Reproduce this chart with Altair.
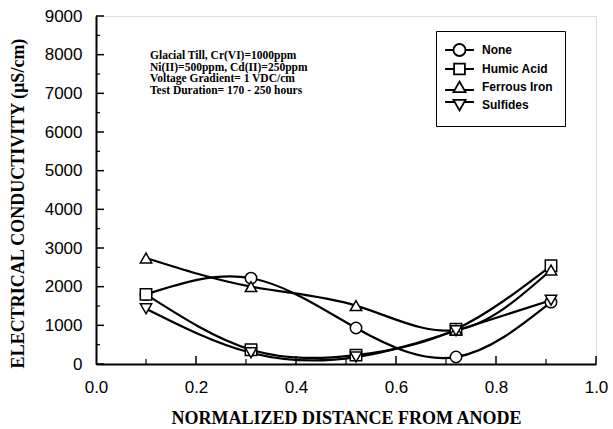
import altair as alt
import pandas as pd

# ---- data ----
distance = [0.1, 0.31, 0.52, 0.72, 0.91]
series_names = ["None", "Humic Acid", "Ferrous Iron", "Sulfides"]
none_vals = [1800, 2220, 930, 180, 1600]
humic_vals = [1800, 370, 230, 900, 2540]
ferrous_vals = [2740, 2000, 1510, 880, 2430]
sulfides_vals = [1430, 290, 180, 860, 1650]

y_major = [0, 1000, 2000, 3000, 4000, 5000, 6000, 7000, 8000, 9000]
y_minor = [500, 1500, 2500, 3500, 4500, 5500, 6500, 7500, 8500]
x_labels = [0.0, 0.2, 0.4, 0.6, 0.8, 1.0]
x_major = [0.2, 0.4, 0.6, 0.8, 1.0]
x_minor = [0.1, 0.3, 0.5, 0.7, 0.9]

note_lines = [
    "Glacial Till, Cr(VI)=1000ppm",
    "Ni(II)=500ppm, Cd(II)=250ppm",
    "Voltage Gradient= 1 VDC/cm",
    "Test Duration= 170 - 250 hours",
]

rows = []
for name, vals in zip(series_names, [none_vals, humic_vals, ferrous_vals, sulfides_vals]):
    for d, v in zip(distance, vals):
        rows.append({"series": name, "legend": name, "x": d, "y": v})
df = pd.DataFrame(rows)

W, H = 500, 348
SERIF = "Liberation Serif"
SANS = "Liberation Sans"

xs = alt.Scale(domain=[0, 1], nice=False, zero=False)
ys = alt.Scale(domain=[0, 9000], nice=False)

x_axis = alt.Axis(
    values=x_labels, format=".1f", ticks=False, tickSize=0,
    grid=False, domainColor="black", domainWidth=2, labelFont=SANS, labelFontSize=17,
    labelColor="black", labelPadding=15, labelFlush=False, labelOverlap=False,
    title="NORMALIZED DISTANCE FROM ANODE", titleFont=SERIF, titleFontSize=18,
    titleFontWeight="bold", titleColor="black", titleBaseline="middle", titleY=54,
)
y_axis = alt.Axis(
    values=y_major, format="d", ticks=False, tickSize=0, grid=False,
    domainColor="black", domainWidth=2, labelFont=SANS, labelFontSize=17,
    labelColor="black", labelPadding=14, labelOverlap=False, labelFlush=False,
    title="ELECTRICAL CONDUCTIVITY (\u00b5S/cm)", titleFont=SERIF, titleFontSize=18,
    titleFontWeight="bold", titleColor="black", titleBaseline="middle",
    titleX=-78, titleY=187, titleAlign="center", titleAngle=270,
)

lines = alt.Chart(df).mark_line(
    interpolate="natural", color="black", strokeWidth=2.2
).encode(
    x=alt.X("x:Q", scale=xs, axis=x_axis),
    y=alt.Y("y:Q", scale=ys, axis=y_axis),
    detail="series:N",
)

points = alt.Chart(df).mark_point(
    filled=False, fill="white", fillOpacity=1, stroke="black", strokeWidth=1.5,
    size=130, opacity=1
).encode(
    x=alt.X("x:Q", scale=xs, axis=x_axis),
    y=alt.Y("y:Q", scale=ys, axis=y_axis),
    shape=alt.Shape(
        "series:N",
        scale=alt.Scale(domain=series_names,
                        range=["circle", "square", "triangle-up", "triangle-down"]),
        legend=None,
    ),
)

# legend glyphs: line stub + open symbol, shifted slightly right
legend_paths = [
    "M-1.65,0H-0.25M1.75,0H3.15M-0.25,0A1,1,0,1,1,1.75,0A1,1,0,1,1,-0.25,0Z",
    "M-1.65,0H-0.15M1.65,0H3.15M-0.15,-0.9H1.65V0.9H-0.15Z",
    "M-1.65,0.5H-0.05M1.55,0.5H3.15M-0.25,0.85L0.75,-0.9L1.75,0.85Z",
    "M-1.65,-0.5H-0.05M1.55,-0.5H3.15M-0.25,-0.85L0.75,0.9L1.75,-0.85Z",
]

legend_layer = alt.Chart(df).mark_point(opacity=0, size=144).encode(
    x=alt.X("x:Q", scale=xs, axis=x_axis),
    y=alt.Y("y:Q", scale=ys, axis=y_axis),
    shape=alt.Shape(
        "legend:N",
        scale=alt.Scale(domain=series_names, range=legend_paths),
        legend=alt.Legend(
            title=None, orient="none", legendX=340, legendY=15,
            symbolOpacity=1, symbolFillColor="white", symbolStrokeColor="black",
            symbolStrokeWidth=1.8, symbolSize=144, labelFont=SANS, labelFontSize=12,
            labelFontWeight="bold", labelColor="black", labelOffset=20,
            rowPadding=0, padding=12, strokeColor="black", fillColor="white",
        ),
    ),
)

ytick_major_df = pd.DataFrame({"v": y_major})
ytick_minor_df = pd.DataFrame({"v": y_minor})
xtick_major_df = pd.DataFrame({"v": x_major})
xtick_minor_df = pd.DataFrame({"v": x_minor})

yt1 = alt.Chart(ytick_major_df).mark_rule(color="black", strokeWidth=1.5).encode(
    y=alt.Y("v:Q", scale=ys, axis=y_axis), x=alt.value(0), x2=alt.value(8))
yt2 = alt.Chart(ytick_minor_df).mark_rule(color="black", strokeWidth=1.2).encode(
    y=alt.Y("v:Q", scale=ys, axis=y_axis), x=alt.value(0), x2=alt.value(4))
xt1 = alt.Chart(xtick_major_df).mark_rule(color="black", strokeWidth=1.5).encode(
    x=alt.X("v:Q", scale=xs, axis=x_axis), y=alt.value(H), y2=alt.value(H - 8))
xt2 = alt.Chart(xtick_minor_df).mark_rule(color="black", strokeWidth=1.2).encode(
    x=alt.X("v:Q", scale=xs, axis=x_axis), y=alt.value(H), y2=alt.value(H - 5))

note = alt.Chart(pd.DataFrame({"t": [0]})).mark_text(
    text=note_lines, align="left", baseline="top", font=SERIF, fontSize=11.5,
    fontWeight="bold", color="black", lineHeight=11.5,
).encode(x=alt.value(54), y=alt.value(34))

chart = alt.layer(
    lines, points, yt1, yt2, xt1, xt2, legend_layer, note
).resolve_scale(shape="independent").properties(
    width=W, height=H,
    autosize=alt.AutoSizeParams(type="none"),
    padding={"left": 96, "top": 16, "right": 17, "bottom": 65},
).configure_view(stroke=None).configure(background="white")

chart.save("out.html", embed_options={"renderer": "svg", "actions": False})
